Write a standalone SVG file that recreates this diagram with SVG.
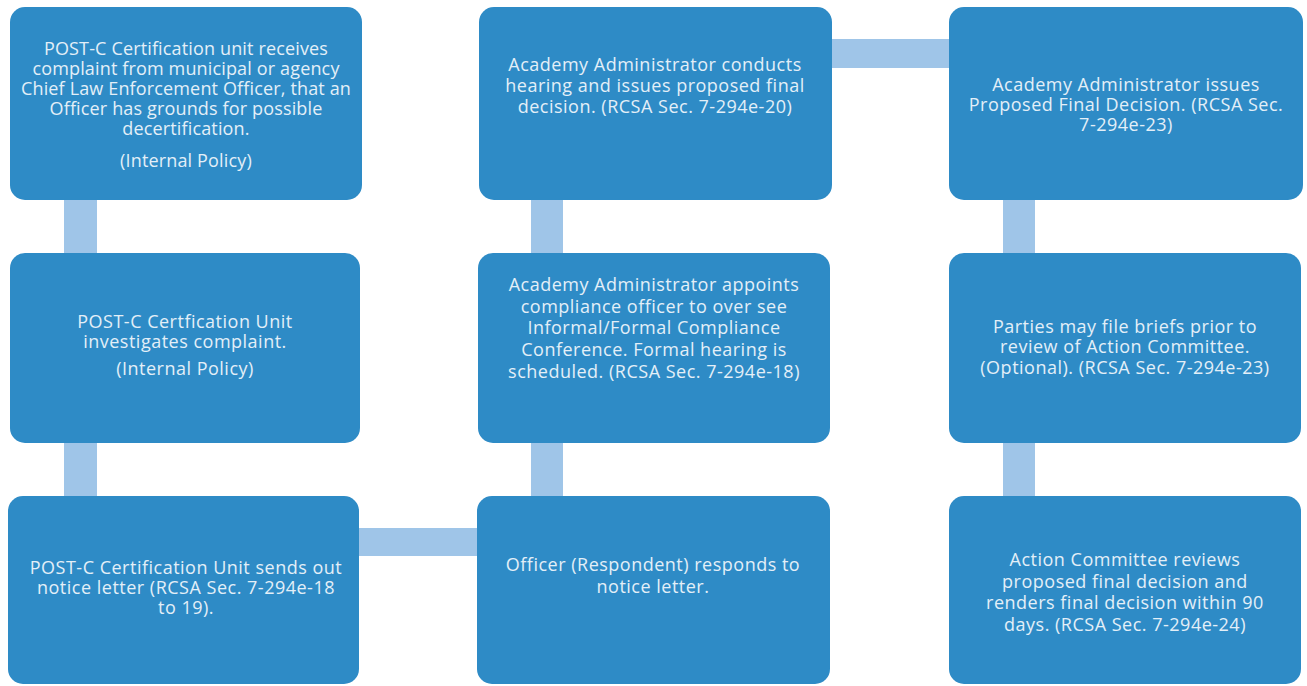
<svg xmlns="http://www.w3.org/2000/svg" width="1307" height="686" viewBox="0 0 1307 686">
<style>
.box{fill:#2e8bc6;}
.conn{fill:#9fc5e8;}
.t{font-family:"Open Sans","Liberation Sans",sans-serif;font-size:18px;letter-spacing:0.5px;fill:#e3eff8;text-anchor:middle;}
.t.s{letter-spacing:0.15px;}
</style>
<rect width="1307" height="686" fill="#ffffff"/>
<g id="connectors">
<rect class="conn" x="64" y="200" width="33" height="53"/>
<rect class="conn" x="64" y="443" width="33" height="53"/>
<rect class="conn" x="359" y="528" width="118" height="28"/>
<rect class="conn" x="531" y="443" width="32" height="53"/>
<rect class="conn" x="531" y="200" width="32" height="53"/>
<rect class="conn" x="832" y="39" width="117" height="29"/>
<rect class="conn" x="1003" y="200" width="32" height="53"/>
<rect class="conn" x="1003" y="443" width="32" height="53"/>
</g>
<g id="n1">
<rect class="box" x="10" y="7" width="352" height="193" rx="15"/>
<text class="t s"><tspan x="186" y="55">POST-C Certification unit receives</tspan><tspan x="186" y="75">complaint from municipal or agency</tspan><tspan x="186" y="95">Chief Law Enforcement Officer, that an</tspan><tspan x="186" y="115">Officer has grounds for possible</tspan><tspan x="186" y="135">decertification.</tspan><tspan x="186" y="167">(Internal Policy)</tspan></text>
</g>
<g id="n2">
<rect class="box" x="10" y="253" width="350" height="190" rx="15"/>
<text class="t"><tspan x="185" y="328">POST-C Certfication Unit</tspan><tspan x="185" y="348">investigates complaint.</tspan><tspan x="185" y="375">(Internal Policy)</tspan></text>
</g>
<g id="n3">
<rect class="box" x="8" y="496" width="351" height="188" rx="15"/>
<text class="t"><tspan x="186" y="574">POST-C Certification Unit sends out</tspan><tspan x="186" y="594">notice letter (RCSA Sec. 7-294e-18</tspan><tspan x="186" y="614">to 19).</tspan></text>
</g>
<g id="n4">
<rect class="box" x="477" y="496" width="353" height="188" rx="15"/>
<text class="t"><tspan x="653" y="571">Officer (Respondent) responds to</tspan><tspan x="653" y="593">notice letter.</tspan></text>
</g>
<g id="n5">
<rect class="box" x="478" y="253" width="352" height="190" rx="15"/>
<text class="t"><tspan x="654" y="291">Academy Administrator  appoints</tspan><tspan x="654" y="313">compliance officer to over see</tspan><tspan x="654" y="334">Informal/Formal Compliance</tspan><tspan x="654" y="356">Conference. Formal hearing is</tspan><tspan x="654" y="378">scheduled. (RCSA Sec. 7-294e-18)</tspan></text>
</g>
<g id="n6">
<rect class="box" x="479" y="7" width="353" height="193" rx="15"/>
<text class="t"><tspan x="655" y="71">Academy Administrator conducts</tspan><tspan x="655" y="92">hearing and issues proposed final</tspan><tspan x="655" y="113">decision. (RCSA Sec. 7-294e-20)</tspan></text>
</g>
<g id="n7">
<rect class="box" x="949" y="7" width="354" height="193" rx="15"/>
<text class="t"><tspan x="1126" y="91">Academy Administrator issues</tspan><tspan x="1126" y="111">Proposed Final Decision. (RCSA Sec.</tspan><tspan x="1126" y="131">7-294e-23)</tspan></text>
</g>
<g id="n8">
<rect class="box" x="949" y="253" width="352" height="190" rx="15"/>
<text class="t"><tspan x="1125" y="333">Parties may file briefs prior to</tspan><tspan x="1125" y="353">review of Action Committee.</tspan><tspan x="1125" y="374">(Optional). (RCSA Sec. 7-294e-23)</tspan></text>
</g>
<g id="n9">
<rect class="box" x="949" y="496" width="352" height="188" rx="15"/>
<text class="t"><tspan x="1125" y="566">Action Committee reviews</tspan><tspan x="1125" y="588">proposed final decision and</tspan><tspan x="1125" y="609">renders final decision within 90</tspan><tspan x="1125" y="631">days. (RCSA Sec. 7-294e-24)</tspan></text>
</g>
</svg>
